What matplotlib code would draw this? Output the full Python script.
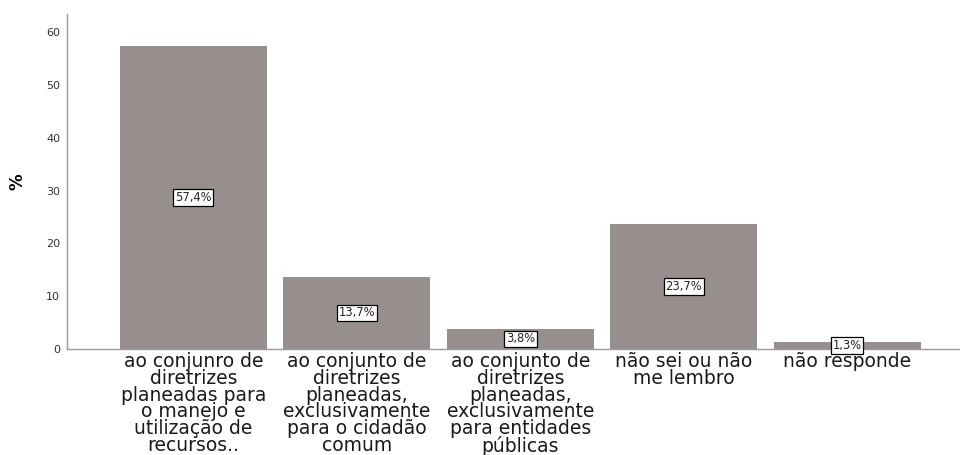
import matplotlib.pyplot as plt

categories = [
    "ao conjunro de\ndiretrizes\nplaneadas para\no manejo e\nutilização de\nrecursos..",
    "ao conjunto de\ndiretrizes\nplaneadas,\nexclusivamente\npara o cidadão\ncomum",
    "ao conjunto de\ndiretrizes\nplaneadas,\nexclusivamente\npara entidades\npúblicas",
    "não sei ou não\nme lembro",
    "não responde",
]
values = [57.4, 13.7, 3.8, 23.7, 1.3]
labels = ["57,4%", "13,7%", "3,8%", "23,7%", "1,3%"]
yticks = [0, 10, 20, 30, 40, 50, 60]

fig = plt.figure(figsize=(9.6, 4.55), dpi=100)
ax = fig.add_axes([0.0698, 0.233, 0.93, 0.736])

x = range(len(values))
ax.bar(x, values, width=0.9, color="#968f8e", zorder=2)

for xi, v, lab in zip(x, values, labels):
    ax.text(xi, v / 2, lab, ha="center", va="center", fontsize=8.3, color="#222222",
            bbox=dict(boxstyle="square,pad=0.15", fc="white", ec="black", lw=0.9),
            zorder=3)

ax.set_xlim(-0.774, 4.69)
ax.set_ylim(0, 63.4)
ax.set_yticks(yticks)
ax.set_yticklabels([str(t) for t in yticks], fontsize=8, color="#333333")
ax.tick_params(axis="y", length=0, pad=5)
ax.set_xticks(list(x))
ax.set_xticklabels(categories, fontsize=13.5, linespacing=0.86, va="top", color="#1a1a1a")
ax.tick_params(axis="x", length=0, pad=2)

for s in ["top", "right"]:
    ax.spines[s].set_visible(False)
for s in ["left", "bottom"]:
    ax.spines[s].set_color("#9a9a9a")
    ax.spines[s].set_linewidth(1.0)

ax.set_ylabel("%", fontsize=12, fontweight="bold", labelpad=14)

fig.savefig("out.png", dpi=100)
